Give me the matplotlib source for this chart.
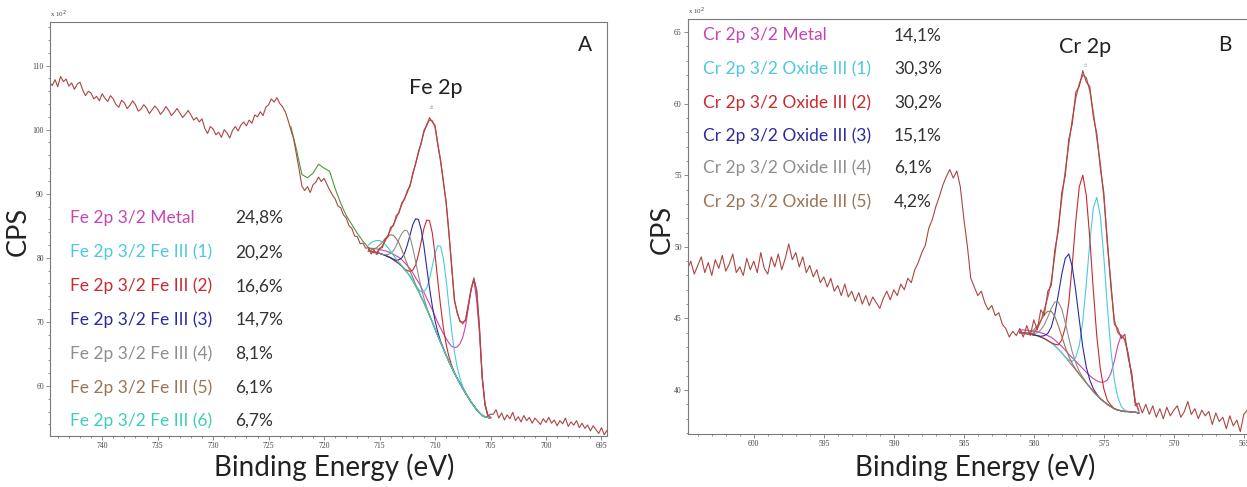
import matplotlib
matplotlib.use("Agg")
import matplotlib.pyplot as plt
import numpy as np
from matplotlib.ticker import MultipleLocator

plt.rcParams['font.family'] = ['Lato', 'DejaVu Sans']

# ---------------- Fe 2p (panel A) ----------------
fe_hi_E = np.arange(745.0, 716.2, -0.25)
fe_hi_cps = [106.5, 107.4, 106.9, 107.8, 106.7, 108.3, 107.5, 107.9, 106.8, 107.3,
             106.3, 107.1, 107.4, 106.2, 105.3, 106.0, 105.7, 104.8, 105.2, 104.5,
             105.6, 104.9, 104.4, 105.3, 104.8, 103.9, 103.5, 104.6, 104.2, 103.3,
             103.8, 104.5, 103.9, 102.9, 103.2, 103.9, 103.4, 102.5, 103.1, 103.7,
             103.2, 102.4, 102.9, 103.6, 103.0, 102.2, 102.7, 103.3, 102.6, 101.9,
             102.4, 103.0, 102.3, 101.5, 101.9, 101.2, 101.7, 100.2, 99.4, 100.5,
             100.1, 99.2, 99.6, 98.8, 100.0, 99.5, 98.7, 99.9, 100.5, 99.8,
             100.7, 101.2, 100.6, 101.5, 101.0, 102.3, 102.0, 102.8, 102.2, 103.5,
             103.9, 104.8, 104.3, 105.0, 104.1, 103.6, 102.8, 101.5, 100.0, 98.6,
             96.2, 93.8, 91.2, 90.5, 91.1, 90.2, 91.4, 91.8, 92.6, 91.9,
             92.4, 91.5, 90.6, 89.8, 89.2, 88.1, 87.8, 86.7, 86.2, 85.0,
             84.6, 83.4, 83.3, 82.2, 82.3, 81.5]

fe_fit_E = np.arange(716.0, 704.9, -0.25)
fe_fit_cps = [81.6, 80.6, 81.2, 80.5, 81.5, 81.6, 82.9, 83.2, 84.8, 85.0,
              86.6, 87.0, 88.6, 89.1, 90.5, 91.2, 93.3, 94.6, 96.6, 97.8,
              99.9, 100.6, 101.9, 101.2, 100.7, 97.6, 95.3, 91.8, 88.8, 83.7,
              78.8, 73.2, 71.6, 70.0, 70.0, 70.2, 72.8, 75.0, 76.9, 74.8,
              69.3, 61.2, 57.3, 55.3, 55.6]

fe_lo_E = np.arange(704.75, 694.4, -0.25)
fe_lo_cps = [55.6, 56.3, 55.0, 55.8, 54.7, 55.5, 54.9, 55.9, 54.6, 55.2,
             54.4, 55.4, 54.6, 55.1, 54.2, 55.0, 54.5, 54.0, 54.9, 54.3,
             55.1, 54.2, 54.7, 53.8, 54.6, 54.1, 55.0, 53.7, 54.4, 53.9,
             54.6, 53.5, 54.2, 53.4, 53.9, 53.0, 53.8, 53.2, 52.6, 53.5,
             52.4, 53.1]

fe_green_E = np.arange(723.0, 715.4, -0.5)
fe_green_cps = [100.5, 97.0, 93.0, 92.5, 93.2, 94.6, 94.0, 93.5, 90.8, 88.5,
                86.6, 85.2, 83.8, 82.6, 81.6, 81.2]

fe_envelope = [81.3, 81.0, 80.8, 80.9, 81.3, 81.9, 82.6, 83.5, 84.4, 85.2,
               86.2, 87.2, 88.3, 89.3, 90.2, 91.4, 93.0, 94.8, 96.3, 98.0,
               99.6, 100.8, 101.5, 101.4, 100.4, 97.8, 95.0, 92.0, 88.5, 84.0,
               78.5, 73.5, 71.3, 70.2, 69.7, 70.4, 72.5, 75.2, 76.6, 75.0,
               69.0, 61.5, 57.0, 55.5, 55.1]

fe_background = [81.0, 81.0, 80.9, 80.8, 80.7, 80.55, 80.4, 80.2, 80.0, 79.7,
                 79.4, 79.1, 78.7, 78.2, 77.7, 77.1, 76.4, 75.6, 74.8, 73.9,
                 73.0, 72.0, 71.0, 70.0, 68.9, 67.8, 66.8, 65.8, 64.8, 63.8,
                 62.9, 62.0, 61.2, 60.4, 59.6, 58.9, 58.2, 57.5, 56.9, 56.3,
                 55.8, 55.4, 55.2, 55.1, 55.0]

# component heights above the background
fe_metal = [0.5, 0.5, 0.55, 0.6, 0.6, 0.65, 0.7, 0.75, 0.8, 0.85,
            0.9, 0.95, 1.0, 1.05, 1.1, 1.2, 1.25, 1.3, 1.4, 1.5,
            1.6, 1.7, 1.8, 1.9, 2.0, 2.1, 2.2, 2.4, 2.6, 2.9,
            3.3, 4.0, 4.9, 6.2, 8.0, 10.5, 14.0, 17.6, 19.7, 17.0,
            12.5, 6.0, 2.0, 0.4, 0.1]
fe_iii_1 = [0] * 17 + [0.1, 0.3, 0.8, 1.7, 3.3, 5.7, 8.7, 11.8, 14.1, 15.0,
                       14.1, 11.8, 8.7, 5.7, 3.3, 1.7, 0.8, 0.3, 0.1] + [0] * 9
fe_iii_2 = [0] * 13 + [0.1, 0.3, 0.8, 1.7, 3.3, 5.7, 8.6, 11.6, 13.9, 14.8,
                       13.9, 11.6, 8.6, 5.7, 3.3, 1.7, 0.8, 0.3, 0.1] + [0] * 13
fe_iii_3 = [0] * 9 + [0.1, 0.2, 0.6, 1.3, 2.5, 4.3, 6.5, 8.8, 10.5, 11.2,
                      10.5, 8.8, 6.5, 4.3, 2.5, 1.3, 0.6, 0.2, 0.1] + [0] * 17
fe_iii_4 = [0] * 6 + [0.1, 0.3, 0.7, 1.4, 2.5, 3.8, 5.1, 6.1, 6.5, 6.1,
                      5.1, 3.8, 2.5, 1.4, 0.7, 0.3, 0.1] + [0] * 22
fe_iii_5 = [0.1, 0.2, 0.5, 0.8, 1.3, 1.9, 2.6, 3.2, 3.6, 3.8,
            3.6, 3.2, 2.6, 1.9, 1.3, 0.8, 0.5, 0.2, 0.1] + [0] * 26
fe_iii_6 = [1.0, 1.4, 1.7, 1.9, 2.0, 1.9, 1.7, 1.4, 1.0, 0.7,
            0.4, 0.2, 0.1] + [0] * 32

fe_labels = ["Fe 2p 3/2 Metal", "Fe 2p 3/2 Fe III (1)", "Fe 2p 3/2 Fe III (2)",
             "Fe 2p 3/2 Fe III (3)", "Fe 2p 3/2 Fe III (4)", "Fe 2p 3/2 Fe III (5)",
             "Fe 2p 3/2 Fe III (6)"]
fe_percent = ["24,8%", "20,2%", "16,6%", "14,7%", "8,1%", "6,1%", "6,7%"]
fe_colors = ["#c545b5", "#4cc9de", "#c82a2e", "#2b2ba0", "#8e8e8e", "#9a7555", "#3ccfb8"]

# ---------------- Cr 2p (panel B) ----------------
cr_hi_E = np.arange(605.0, 581.2, -0.25)
cr_hi_cps = [49.2, 48.4, 49.0, 48.1, 48.7, 49.3, 48.2, 48.9, 48.0, 49.1,
             48.5, 49.4, 48.3, 48.8, 49.5, 48.2, 48.6, 48.0, 49.2, 48.4,
             49.0, 48.2, 49.6, 48.5, 48.1, 49.3, 48.6, 49.5, 48.4, 49.2,
             50.2, 49.1, 49.6, 48.6, 49.3, 48.2, 48.7, 47.9, 48.4, 47.5,
             47.9, 47.2, 47.8, 46.9, 47.3, 46.6, 47.4, 46.5, 46.9, 46.2,
             46.8, 46.0, 46.6, 45.9, 46.5, 46.1, 45.7, 46.4, 46.9, 46.3,
             47.0, 46.6, 47.4, 47.0, 47.8, 47.5, 48.4, 48.9, 49.6, 50.1,
             51.3, 51.9, 52.8, 53.5, 54.3, 54.9, 55.4, 54.8, 55.3, 54.2,
             52.0, 50.1, 47.8, 47.2, 46.6, 46.9, 46.1, 45.6, 45.9, 45.2,
             45.4, 44.6, 44.3, 43.7, 44.1, 43.8]

cr_fit_E = np.arange(581.0, 572.4, -0.25)
cr_fit_cps = [44.3, 43.7, 44.5, 43.8, 44.9, 44.2, 45.6, 45.2, 46.9, 47.3,
              49.8, 51.1, 53.8, 55.0, 57.5, 58.6, 60.8, 61.2, 62.3, 61.5,
              61.2, 59.1, 57.9, 55.5, 53.8, 50.2, 47.6, 44.6, 44.3, 43.6,
              43.9, 42.2, 41.2, 38.9, 39.1]

cr_lo_E = np.arange(572.25, 563.9, -0.25)
cr_lo_cps = [38.4, 39.0, 38.3, 38.9, 38.1, 38.7, 38.0, 38.8, 38.2, 38.6,
             38.9, 38.1, 38.5, 39.2, 38.3, 38.7, 38.0, 38.6, 38.2, 38.5,
             37.6, 38.4, 37.8, 38.1, 37.3, 38.2, 37.5, 37.9, 37.1, 38.3,
             38.6, 37.2, 37.8, 37.5]

cr_envelope = [44.1, 44.0, 43.9, 43.9, 44.0, 44.3, 44.8, 45.6, 46.5, 47.6,
               49.4, 51.4, 53.4, 55.3, 57.2, 58.9, 60.4, 61.4, 62.0, 61.8,
               60.9, 59.4, 57.6, 55.8, 53.5, 50.5, 47.3, 44.9, 44.0, 43.8,
               43.5, 42.5, 40.9, 39.2, 38.6]

cr_background = [44.0, 44.0, 43.95, 43.9, 43.85, 43.8, 43.7, 43.6, 43.45, 43.3,
                 43.1, 42.85, 42.6, 42.3, 42.0, 41.7, 41.4, 41.1, 40.8, 40.5,
                 40.2, 39.9, 39.65, 39.4, 39.2, 39.0, 38.85, 38.7, 38.6, 38.55,
                 38.5, 38.5, 38.45, 38.45, 38.4]

cr_metal = [0.2, 0.2, 0.22, 0.24, 0.26, 0.28, 0.3, 0.33, 0.35, 0.38,
            0.4, 0.42, 0.45, 0.48, 0.5, 0.55, 0.6, 0.65, 0.7, 0.75,
            0.8, 0.9, 1.0, 1.15, 1.35, 1.7, 2.3, 3.3, 4.5, 5.3,
            5.0, 4.0, 2.4, 0.7, 0.1]
cr_iii_1 = [0] * 14 + [0.1, 0.3, 0.9, 2.0, 4.0, 6.9, 10.1, 12.8, 13.8, 12.8,
                       10.1, 6.9, 4.0, 2.0, 0.9, 0.3, 0.1] + [0] * 4
cr_iii_2 = [0] * 10 + [0.1, 0.3, 0.9, 2.1, 4.1, 7.1, 10.4, 13.1, 14.2, 13.1,
                       10.4, 7.1, 4.1, 2.1, 0.9, 0.3, 0.1] + [0] * 8
cr_iii_3 = [0] * 6 + [0.05, 0.2, 0.5, 1.1, 2.2, 3.8, 5.5, 6.9, 7.5, 6.9,
                      5.5, 3.8, 2.2, 1.1, 0.5, 0.2, 0.05] + [0] * 12
cr_iii_4 = [0] * 4 + [0.1, 0.2, 0.5, 0.95, 1.65, 2.4, 3.05, 3.3, 3.05, 2.4,
                      1.65, 0.95, 0.5, 0.2, 0.1] + [0] * 16
cr_iii_5 = [0] * 2 + [0.05, 0.15, 0.35, 0.7, 1.15, 1.65, 2.05, 2.2, 2.05, 1.65,
                      1.15, 0.7, 0.35, 0.15, 0.05] + [0] * 18

cr_labels = ["Cr 2p 3/2 Metal", "Cr 2p 3/2 Oxide III (1)", "Cr 2p 3/2 Oxide III (2)",
             "Cr 2p 3/2 Oxide III (3)", "Cr 2p 3/2 Oxide III (4)", "Cr 2p 3/2 Oxide III (5)"]
cr_percent = ["14,1%", "30,3%", "30,2%", "15,1%", "6,1%", "4,2%"]
cr_colors = ["#c545b5", "#4cc9de", "#c82a2e", "#2b2ba0", "#8e8e8e", "#9a7555"]

data_col = "#ab4644"
env_col = "#d0484a"
bg_col = "#8c8272"
axis_col = "#7a7a7a"


def style_axes(ax, xmaj, ymaj, ymin):
    ax.xaxis.set_major_locator(MultipleLocator(xmaj))
    ax.xaxis.set_minor_locator(MultipleLocator(1))
    ax.yaxis.set_major_locator(MultipleLocator(ymaj))
    ax.yaxis.set_minor_locator(MultipleLocator(ymin))
    ax.tick_params(which='both', direction='out', color=axis_col, width=0.6,
                   labelsize=5.5, labelcolor="#444444", pad=1.5,
                   labelfontfamily='Liberation Serif')
    ax.tick_params(which='major', length=3)
    ax.tick_params(which='minor', length=1.6)
    for sp in ax.spines.values():
        sp.set_color(axis_col)
        sp.set_linewidth(0.8)
    ax.text(0, 1.004, "x 10$^2$", transform=ax.transAxes, fontsize=5,
            family='Liberation Serif', color="#444444", ha='left', va='bottom')


fig = plt.figure(figsize=(12.47, 4.87), dpi=100)

# ---- panel A ----
axA = fig.add_axes([0.0401, 0.1047, 0.4467, 0.8501])
fe_comps = [fe_metal, fe_iii_1, fe_iii_2, fe_iii_3, fe_iii_4, fe_iii_5, fe_iii_6]
fe_bg = np.array(fe_background)
axA.plot(fe_fit_E, fe_bg, color=bg_col, lw=0.8)
for comp, col in zip(fe_comps, fe_colors):
    axA.plot(fe_fit_E, fe_bg + np.array(comp), color=col, lw=0.8)
axA.plot(fe_green_E, fe_green_cps, color="#4a9a3a", lw=0.8)
axA.plot(fe_fit_E, fe_envelope, color=env_col, lw=0.9)
axA.plot(np.concatenate([fe_hi_E, fe_fit_E, fe_lo_E]),
         np.concatenate([fe_hi_cps, fe_fit_cps, fe_lo_cps]), color=data_col, lw=0.8)
axA.set_xlim(744.7, 694.5)
axA.set_ylim(52.2, 116.8)
style_axes(axA, 5, 10, 2)
axA.text(710.2, 103.4, "Fe", fontsize=3.5, rotation=90, color="#777777",
         ha='center', va='bottom', family='Liberation Serif')
axA.text(0.693, 0.841, "Fe 2p", transform=axA.transAxes, fontsize=15.5,
         color="#222222", ha='center', va='center')
axA.text(0.960, 0.944, "A", transform=axA.transAxes, fontsize=15,
         color="#222222", ha='center', va='center')
fe_rows = [0.527, 0.444, 0.362, 0.280, 0.198, 0.116, 0.036]
for lab, pct, col, yy in zip(fe_labels, fe_percent, fe_colors, fe_rows):
    axA.text(0.036, yy, lab, transform=axA.transAxes, fontsize=12.5, color=col, va='center')
    axA.text(0.333, yy, pct, transform=axA.transAxes, fontsize=12.5, color="#333333", va='center')

# ---- panel B ----
axB = fig.add_axes([0.5517, 0.1088, 0.4536, 0.8522])
cr_comps = [cr_metal, cr_iii_1, cr_iii_2, cr_iii_3, cr_iii_4, cr_iii_5]
cr_bg = np.array(cr_background)
axB.plot(cr_fit_E, cr_bg, color=bg_col, lw=0.8)
for comp, col in zip(cr_comps, cr_colors):
    axB.plot(cr_fit_E, cr_bg + np.array(comp), color=col, lw=0.8)
axB.plot(cr_fit_E, cr_envelope, color="#b5584a", lw=0.9)
axB.plot(np.concatenate([cr_hi_E, cr_fit_E, cr_lo_E]),
         np.concatenate([cr_hi_cps, cr_fit_cps, cr_lo_cps]), color=data_col, lw=0.8)
axB.set_xlim(604.7, 564.3)
axB.set_ylim(36.93, 65.91)
style_axes(axB, 5, 5, 1)
axB.text(576.2, 62.6, "Cr", fontsize=3.5, rotation=90, color="#777777",
         ha='center', va='bottom', family='Liberation Serif')
axB.text(0.702, 0.933, "Cr 2p", transform=axB.transAxes, fontsize=15.5,
         color="#222222", ha='center', va='center')
axB.text(0.949, 0.937, "B", transform=axB.transAxes, fontsize=15,
         color="#222222", ha='center', va='center')
cr_rows = [0.961, 0.880, 0.798, 0.718, 0.641, 0.559]
for lab, pct, col, yy in zip(cr_labels, cr_percent, cr_colors, cr_rows):
    axB.text(0.0265, yy, lab, transform=axB.transAxes, fontsize=12.5, color=col, va='center')
    axB.text(0.364, yy, pct, transform=axB.transAxes, fontsize=12.5, color="#333333", va='center')

# axis titles
for xc in (0.268, 0.782):
    fig.text(xc, 0.041, "Binding Energy (eV)", fontsize=20, color="#222222",
             ha='center', va='center')
for xc, yc in ((0.015, 0.524), (0.531, 0.528)):
    fig.text(xc, yc, "CPS", fontsize=19.5, color="#222222", rotation=90,
             ha='center', va='center')

fig.savefig("out.png", dpi=100)
